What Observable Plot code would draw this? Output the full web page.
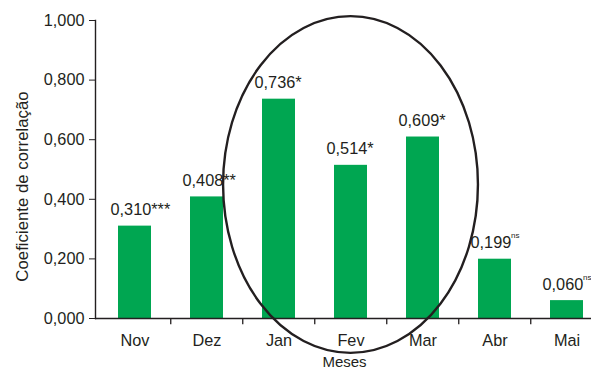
<!DOCTYPE html>
<html>
<head>
<meta charset="utf-8">
<script src="https://cdn.jsdelivr.net/npm/d3@7"></script>
<script src="https://cdn.jsdelivr.net/npm/@observablehq/plot@0.6"></script>
<style>
  html, body { margin: 0; padding: 0; background: #fff; }
  svg { font-family: "Liberation Sans", Arial, Helvetica, sans-serif; }
</style>
</head>
<body>
<div id="chart"></div>
<script>
const months = ["Nov", "Dez", "Jan", "Fev", "Mar", "Abr", "Mai"];
const values = [0.310, 0.408, 0.736, 0.514, 0.609, 0.199, 0.060];
const numberLabels = ["0,310", "0,408", "0,736", "0,514", "0,609", "0,199", "0,060"];
const signif = ["***", "**", "*", "*", "*", "ns", "ns"];
const yTicks = [0, 0.2, 0.4, 0.6, 0.8, 1.0];
const yLabel = "Coeficiente de correlação";
const xLabel = "Meses";
// annotation ellipse around Jan–Mar
const ellipseCenterMonth = "Fev";
const ellipseHalfWidthSteps = 1.77;
const ellipseYRange = [-0.117, 1.013];

const data = months.map((m, i) => ({
  month: m, value: values[i], num: numberLabels[i], sig: signif[i],
  starLabel: signif[i] === "ns" ? numberLabels[i] : numberLabels[i] + signif[i]
}));

const green = "#00a651";
const ink = "#231f20";
const fontSize = 16.3;

const ellipseMark = (index, scales, values, dimensions) => {
  const x = scales.x, y = scales.y;
  const bw = x.bandwidth ? x.bandwidth() : 0;
  const step = x.step ? x.step() : bw;
  const cx = x(ellipseCenterMonth) + bw / 2;
  const rx = ellipseHalfWidthSteps * step;
  const y1 = y(ellipseYRange[1]), y0 = y(ellipseYRange[0]);
  const cy = (y0 + y1) / 2, ry = (y0 - y1) / 2;
  const el = document.createElementNS("http://www.w3.org/2000/svg", "ellipse");
  el.setAttribute("cx", cx); el.setAttribute("cy", cy);
  el.setAttribute("rx", rx); el.setAttribute("ry", ry);
  el.setAttribute("fill", "none"); el.setAttribute("stroke", ink);
  el.setAttribute("stroke-width", 2.4);
  return el;
};

const chart = Plot.plot({
  width: 591,
  height: 369,
  marginLeft: 95,
  marginRight: 0,
  marginTop: 20,
  marginBottom: 51,
  style: { fontSize: fontSize + "px", fontFamily: "'Liberation Sans', Arial, sans-serif", overflow: "visible", color: ink },
  x: { domain: months, range: [97, 604.5], paddingInner: 0.545, paddingOuter: 0.2725, align: 0.5 },
  y: { domain: [0, 1] },
  marks: [
    Plot.barY(data, { x: "month", y: "value", fill: green }),
    Plot.axisY({ ticks: yTicks, tickFormat: d => d.toFixed(3).replace(".", ","), tickSize: 6, tickPadding: 5, label: null, fontSize: fontSize, stroke: ink, fill: ink }),
    Plot.axisX({ tickSize: 0, tickPadding: 16, label: null, fontSize: fontSize, fill: ink }),
    Plot.frame({ anchor: "left", stroke: ink, strokeWidth: 1.4 }),
    Plot.ruleY([0], { stroke: ink, strokeWidth: 1.4 }),
    Plot.ruleX(months.slice(1), { x: d => d, dx: -36.25, y1: 0, y2: -0.021, stroke: ink, strokeWidth: 1.3 }),
    Plot.text(data, { x: "month", y: "value", text: "starLabel", textAnchor: "start", lineAnchor: "bottom", dx: -24.5, dy: -11, fontSize: fontSize, fill: ink }),
    Plot.text(data.filter(d => d.sig === "ns"), { x: "month", y: "value", text: "sig", textAnchor: "start", lineAnchor: "bottom", dx: 16, dy: -21, fontSize: 8, fill: ink }),
    Plot.text([yLabel], { frameAnchor: "left", rotate: -90, dx: -73, dy: 17, textAnchor: "middle", lineAnchor: "middle", fontSize: 16.8, fill: ink }),
    ellipseMark,
    Plot.text([xLabel], { frameAnchor: "bottom", dx: 1, dy: 37.5, textAnchor: "middle", lineAnchor: "top", fontSize: 15, fill: ink })
  ]
});
document.getElementById("chart").appendChild(chart);
</script>
</body>
</html>
